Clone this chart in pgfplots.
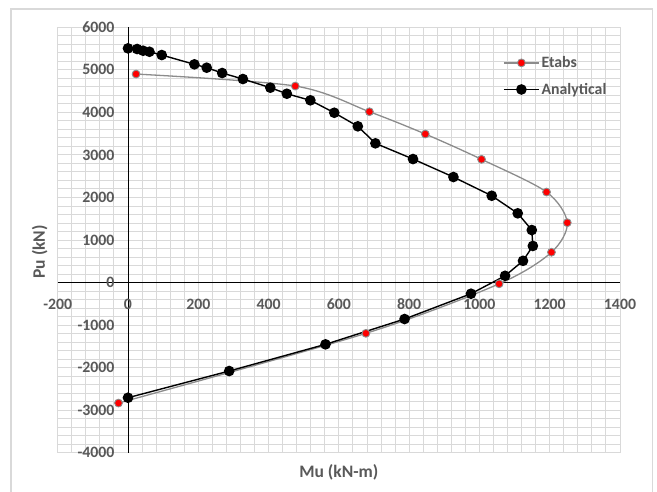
\documentclass[border=0pt]{standalone}
\usepackage{fontspec}
\setmainfont{Carlito}
\usepackage{pgfplots}
\pgfplotsset{compat=1.18}
\definecolor{txt}{HTML}{595959}
\definecolor{gridc}{HTML}{D9D9D9}
\definecolor{etabsline}{HTML}{8C8C8C}
\definecolor{framec}{HTML}{D9D9D9}
\begin{document}
\begin{tikzpicture}
\useasboundingbox (0,0) rectangle (657pt,492pt);
\fill[white] (0,0) rectangle (657pt,492pt);
\draw[framec, line width=1.5pt] (11pt,-5pt) -- (11pt,483pt) -- (652.7pt,483pt) -- (652.7pt,-5pt);
\begin{axis}[
  at={(57.7pt,39.3pt)}, anchor=south west,
  scale only axis, width=562.3pt, height=425.4pt,
  xmin=-200, xmax=1400, ymin=-4000, ymax=6000,
  axis lines=middle, axis line style={-, black, line width=0.8pt},
  xtick={-200,0,...,1400}, ytick={-4000,-3000,...,6000},
  minor x tick num=4, minor y tick num=4,
  grid=both,
  major grid style={gridc, line width=0.9pt},
  minor grid style={gridc, line width=0.9pt},
  major tick length=0pt, minor tick length=0pt,
  hide obscured x ticks=false, hide obscured y ticks=false,
  tick label style={font=\fontsize{15.8}{18}\selectfont\bfseries, text=txt},
  /pgf/number format/assume math mode=true,
  /pgf/number format/1000 sep={},
  xticklabel style={yshift=-13pt},
  yticklabel style={xshift=-10pt},
  xlabel={Mu (kN-m)}, ylabel={Pu (kN)},
  every axis x label/.style={at={(axis description cs:0.5,-0.045)}, anchor=center, font=\fontsize{17.5}{20}\selectfont\bfseries, text=txt},
  every axis y label/.style={at={(axis description cs:-0.032,0.472)}, rotate=90, anchor=center, font=\fontsize{17.5}{20}\selectfont\bfseries, text=txt},
  legend style={at={(axis description cs:0.7866,0.941)}, anchor=north west, draw=none, fill=none,
    font=\fontsize{15.8}{18}\selectfont\bfseries, text=txt, row sep=10pt},
  legend cell align=left,
  legend image code/.code={\draw[mark repeat=2,mark phase=2,#1] plot coordinates {(0pt,0pt) (17.5pt,0pt) (35pt,0pt)};},
]
\addplot[etabsline, line width=1.3pt, smooth, mark=*, mark size=3.9pt,
  mark options={fill=red, draw=etabsline, line width=0.9pt}] coordinates {
(23,4901)
(476,4619)
(687,4015)
(846,3491)
(1006,2896)
(1191,2127)
(1250,1406)
(1205,712)
(1056,-30)
(677,-1194)
(-27,-2833)
};
\addlegendentry{Etabs}
\addplot[black, line width=1.4pt, mark=*, mark size=4.6pt,
  mark options={fill=black, draw=black}] coordinates {
(0,5505)
(26,5489)
(43,5449)
(61,5425)
(96,5348)
(189,5129)
(224,5050)
(268,4925)
(327,4784)
(405,4580)
(452,4438)
(519,4283)
(587,3991)
(654,3672)
(704,3272)
(811,2903)
(926,2480)
(1035,2040)
(1109,1627)
(1149,1234)
(1152,860)
(1124,510)
(1073,158)
(976,-263)
(787,-858)
(562,-1453)
(288,-2080)
(0,-2708)
};
\addlegendentry{Analytical}
\end{axis}
\end{tikzpicture}
\end{document}
